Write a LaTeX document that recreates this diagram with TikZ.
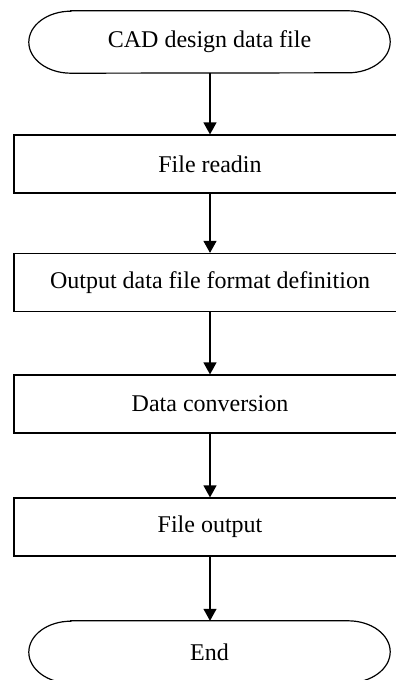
\documentclass[tikz,border=0pt]{standalone}
\usepackage{fontspec}
\setmainfont{Liberation Serif}
\usetikzlibrary{arrows.meta}
\tikzset{
  boxnode/.style={draw, line width=1.2pt, rectangle, minimum width=392pt, minimum height=58pt, inner sep=0pt, font=\fontsize{24}{28}\selectfont},
  termnode/.style={rectangle, minimum width=361pt, minimum height=62pt, inner sep=0pt, font=\fontsize{24}{28}\selectfont},
  termline/.style={line width=1.2pt},
  flow/.style={line width=1.2pt, -{Triangle[length=12pt,width=13pt]}}
}
\newcommand{\stadium}[1]{%
  \draw[termline] ([xshift=42pt]#1.north west) -- ([xshift=-42pt]#1.north east)
    arc[start angle=90, end angle=-90, x radius=42pt, y radius=31pt]
    -- ([xshift=42pt]#1.south west)
    arc[start angle=270, end angle=90, x radius=42pt, y radius=31pt] -- cycle;}
\begin{document}
\begin{tikzpicture}[x=1pt,y=1pt]
\useasboundingbox (0,-680) rectangle (396,0);
\clip (0,-680) rectangle (396,0);
\node[termnode] (start) at (209.5,-42) {CAD design data file};
\stadium{start}
\node[boxnode] (read) at (210,-164) {File readin};
\node[boxnode] (fmt) at (210,-282.5) {Output data file format definition};
\node[boxnode] (conv) at (210,-404) {Data conversion};
\node[boxnode] (out) at (210,-527) {File output};
\node[termnode] (end) at (209.5,-652) {End};
\stadium{end}
\draw[flow] (start.south -| read.north) -- (read.north);
\draw[flow] (read.south) -- (fmt.north);
\draw[flow] (fmt.south) -- (conv.north);
\draw[flow] (conv.south) -- (out.north);
\draw[flow] (out.south) -- (out.south |- end.north);
\end{tikzpicture}
\end{document}
